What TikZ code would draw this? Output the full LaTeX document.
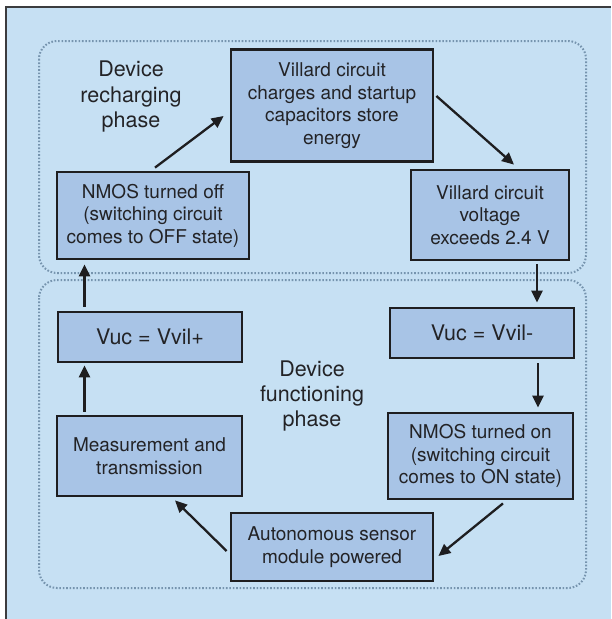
\documentclass[tikz,border=0pt]{standalone}
\usepackage{fontspec}
\setmainfont{TeX Gyre Heros}
\usetikzlibrary{arrows.meta}
\definecolor{panelbg}{RGB}{198,224,243}
\definecolor{boxfill}{RGB}{168,196,230}
\definecolor{boxline}{RGB}{30,30,32}
\definecolor{dotline}{RGB}{118,148,174}
\definecolor{txt}{RGB}{35,35,38}
\definecolor{frame}{RGB}{60,60,62}
\tikzset{
  procbox/.style={draw=boxline, line width=2.8pt, fill=boxfill, inner sep=0pt, align=center,
    text=txt, font=\fontsize{19}{22.5}\selectfont},
  bigtext/.style={font=\fontsize{21.5}{25}\selectfont},
  phaselabel/.style={align=center, text=txt, inner sep=0pt, font=\fontsize{21.5}{25.5}\selectfont},
  phasebox/.style={draw=dotline, line width=2pt, dash pattern=on 1.6pt off 1.8pt, rounded corners=18pt},
  arr/.style={draw=boxline, line width=2.3pt, -{Triangle[length=12pt,width=11pt]}},
}
\begin{document}
\begin{tikzpicture}[x=1pt,y=-1pt]
\useasboundingbox (0,0) rectangle (611,619);
\fill[white] (0,0) rectangle (611,619);
\fill[panelbg] (6,7) rectangle (611,619);
\draw[frame, line width=1.5pt] (6,619) -- (6,7) -- (611,7);
% phase regions
\draw[phasebox] (39,41) rectangle (586,273);
\draw[phasebox] (39,280) rectangle (586,588);
% labels
\node[phaselabel] (reclab) at (131,97) {Device\\recharging\\phase};
\node[phaselabel] (funlab) at (312,396) {Device\\functioning\\phase};
% boxes
\node[procbox, minimum width=202pt, minimum height=112pt] (charge) at (332,105.5)
  {Villard circuit\\charges and startup\\capacitors store\\energy};
\node[procbox, minimum width=158pt, minimum height=90pt] (volt) at (490,215)
  {Villard circuit\\voltage\\exceeds 2.4 V};
\node[procbox, minimum width=192pt, minimum height=87pt] (off) at (153,215.5)
  {NMOS turned off\\(switching circuit\\comes to OFF state)};
\node[procbox, bigtext, minimum width=184pt, minimum height=50pt] (vplus) at (150,337)
  {Vuc = Vvil+};
\node[procbox, bigtext, minimum width=184pt, minimum height=50pt] (vminus) at (482,333)
  {Vuc = Vvil-};
\node[procbox, minimum width=185pt, minimum height=80pt] (meas) at (149.5,456)
  {Measurement and\\transmission};
\node[procbox, minimum width=185pt, minimum height=86pt] (on) at (480.5,456)
  {NMOS turned on\\(switching circuit\\comes to ON state)};
\node[procbox, minimum width=202pt, minimum height=68pt] (auto) at (332,547)
  {Autonomous sensor\\module powered};
% arrows
\draw[arr] ([shift={(2,-3)}]off.north) -- ([shift={(-6,10.5)}]charge.west);
\draw[arr] ([shift={(2,-9.5)}]charge.east) -- ([shift={(24,-4)}]volt.north);
\draw[arr] ([shift={(47,3)}]volt.south) -- ([shift={(55,-4)}]vminus.north);
\draw[arr] ([shift={(56,4)}]vminus.south) -- ([shift={(57.5,-4)}]on.north);
\draw[arr] ([shift={(22.5,3)}]on.south) -- ([shift={(4,9)}]auto.east);
\draw[arr] ([shift={(-3,4)}]auto.west) -- ([shift={(25.5,3)}]meas.south);
\draw[arr] ([shift={(-65,-3)}]meas.north) -- ([shift={(-65.5,2)}]vplus.south);
\draw[arr] ([shift={(-65.5,-4)}]vplus.north) -- ([shift={(-68.5,4)}]off.south);
\end{tikzpicture}
\end{document}
